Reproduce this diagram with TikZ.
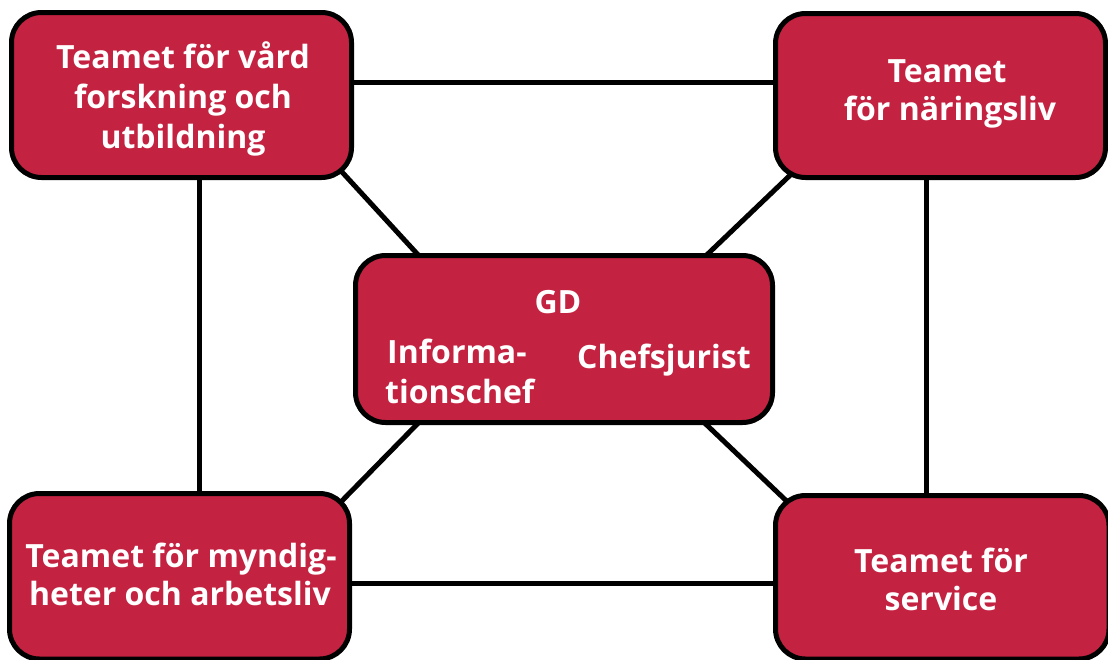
\documentclass[tikz,border=0pt]{standalone}
\usepackage{fontspec}
\setmainfont{Open Sans}
\usetikzlibrary{backgrounds}
\definecolor{teamred}{RGB}{196,34,65}
\tikzset{
  box/.style={draw=black, line width=5pt, fill=teamred, rounded corners=30pt, inner sep=0pt, outer sep=0pt},
  link/.style={draw=black, line width=5pt},
  txt/.style={text=white, font=\fontsize{32}{38}\selectfont\bfseries, inner sep=0pt, anchor=base}
}
\begin{document}
\begin{tikzpicture}[x=1pt,y=-1pt]
\useasboundingbox (0,0) rectangle (1108,659);
\clip (0,0) rectangle (1108,659);
\node[box, minimum width=340, minimum height=165] (tl) at (181.5,95) {};
\node[box, minimum width=330, minimum height=164] (tr) at (940.5,95.5) {};
\node[box, minimum width=417, minimum height=167] (c) at (564,339) {};
\node[box, minimum width=340, minimum height=165.5] (bl) at (179.5,576.25) {};
\node[box, minimum width=333.5, minimum height=163.5] (br) at (942.25,577.25) {};
\begin{scope}[on background layer]
\fill[white] (0,0) rectangle (1108,659);
\draw[link] ([yshift=12.5]tl.east) -- ([yshift=12.5]tl.east -| tr.west);
\draw[link] ([yshift=-6.75]bl.east) -- ([yshift=-6.75]bl.east -| br.west);
\draw[link] ([xshift=18]tl.south) -- ([xshift=18]tl.south |- bl.north);
\draw[link] ([xshift=-14.5]tr.south) -- ([xshift=-14.5]tr.south |- br.north);
\draw[link] ([xshift=-20.5,yshift=17.5]tl.south east) -- ([xshift=76.5,yshift=-14.5]c.north west);
\draw[link] ([xshift=30.5,yshift=17.5]tr.south west) -- ([xshift=-81.5,yshift=-14.5]c.north east);
\draw[link] ([xshift=-16.5,yshift=-16.5]bl.north east) -- ([xshift=75.5,yshift=12.5]c.south west);
\draw[link] ([xshift=20.5,yshift=-14.5]br.north west) -- ([xshift=-81.5,yshift=12.5]c.south east);
\end{scope}
% top left
\node[txt] (tl1) at (183,68) {Teamet för vård};
\node[txt] (tl2) at (183,108) {forskning och};
\node[txt] (tl3) at (183,148) {utbildning};
% top right
\node[txt] (tr1) at (947,82) {Teamet};
\node[txt] (tr2) at (950,120) {för näringsliv};
% center
\node[txt] (gd) at (558,313) {GD};
\node[txt, anchor=base west] (inf1) at (387,363) {Informa-};
\node[txt, anchor=base west] (inf2) at (385,403) {tionschef};
\node[txt] (cj) at (664,368) {Chefsjurist};
% bottom left
\node[txt] (bl1) at (181,567) {Teamet för myndig-};
\node[txt] (bl2) at (180,605) {heter och arbetsliv};
% bottom right
\node[txt] (br1) at (941,572) {Teamet för};
\node[txt] (br2) at (941,610) {service};
\end{tikzpicture}
\end{document}
